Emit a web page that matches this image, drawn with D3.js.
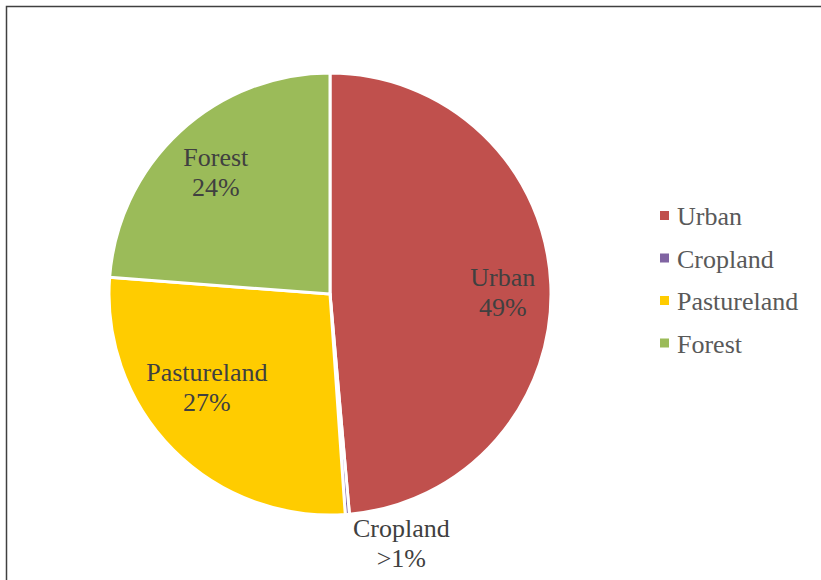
<!DOCTYPE html>
<html>
<head>
<meta charset="utf-8">
<script src="https://cdn.jsdelivr.net/npm/d3@7"></script>
<style>
  body { margin: 0; background: #fff; }
  svg { display: block; }
  .serif { font-family: "Liberation Serif", "DejaVu Serif", serif; }
</style>
</head>
<body>
<div id="chart"></div>
<script>
// land use shares
const categories = ["Urban", "Cropland", "Pastureland", "Forest"]
const values = [48.6, 0.3, 27.3, 23.8]
const pctLabels = ["49%", ">1%", "27%", "24%"]
const colors = ["#C0504D", "#8064A2", "#FFCC00", "#9BBB59"]

const width = 821, height = 580
const cx = 330, cy = 294, radius = 221

const svg = d3.select("#chart").append("svg")
    .attr("width", width)
    .attr("height", height)

// chart frame (right/bottom run off the page)
svg.append("rect")
    .attr("x", 6.5).attr("y", 6.5)
    .attr("width", width + 10).attr("height", height + 10)
    .attr("fill", "none")
    .attr("stroke", "#404040")
    .attr("stroke-width", 1.5)

const data = categories.map((c, i) => ({ name: c, value: values[i], label: pctLabels[i], color: colors[i] }))

const pie = d3.pie().sort(null).value(d => d.value)
const arcs = pie(data)

const arc = d3.arc().innerRadius(0).outerRadius(radius)
const labelArc = d3.arc().innerRadius(radius * 0.76).outerRadius(radius * 0.76)

const g = svg.append("g").attr("transform", "translate(" + cx + "," + cy + ")")

g.selectAll("path.slice")
    .data(arcs)
    .enter().append("path")
    .attr("class", "slice")
    .attr("d", arc)
    .attr("fill", d => d.data.color)
    .attr("stroke", "#fff")
    .attr("stroke-width", 3)
    .attr("stroke-linejoin", "round")

// excel-ish best fit nudges
function labelPos(d) {
    const a = (d.startAngle + d.endAngle) / 2
    if (d.data.value < 2) {
        // tiny slice -> label outside
        return [Math.sin(a) * radius + 54, -Math.cos(a) * radius + 28]
    }
    let p = labelArc.centroid(d)
    if (d.data.name == "Pastureland") p = [p[0] - 4, p[1] - 26]
    if (d.data.name == "Urban") p = [p[0] + 5, p[1] + 5]
    return p
}

const labels = g.selectAll("text.lbl")
    .data(arcs)
    .enter().append("text")
    .attr("class", "lbl serif")
    .style("font-size", "26px")
    .attr("fill", "#404040")
    .attr("text-anchor", "middle")
    .attr("transform", d => "translate(" + labelPos(d) + ")")

labels.append("tspan").attr("x", 0).attr("dy", "-0.2em").text(d => d.data.name)
labels.append("tspan").attr("x", 0).attr("dy", "1.15em").text(d => d.data.label)

// legend
const legend = svg.append("g").attr("transform", "translate(660, 216)")
const items = legend.selectAll("g")
    .data(data)
    .enter().append("g")
    .attr("transform", (d, i) => "translate(0," + (i * 42.5) + ")")

items.append("rect")
    .attr("x", 0).attr("y", -5)
    .attr("width", 9).attr("height", 9)
    .attr("fill", d => d.color)

items.append("text")
    .attr("class", "serif")
    .attr("x", 17)
    .attr("y", 0)
    .attr("dy", "0.35em")
    .style("font-size", "26px")
    .attr("fill", "#595959")
    .text(d => d.name)
</script>
</body>
</html>
